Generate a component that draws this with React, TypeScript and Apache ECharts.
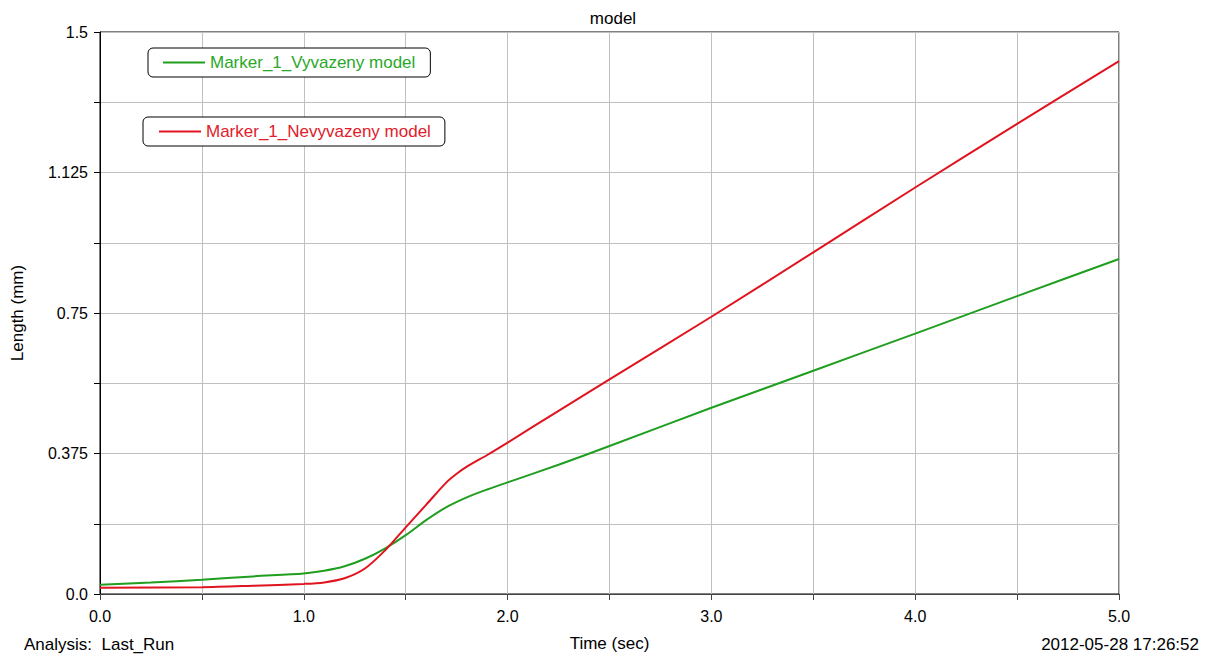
import React, { useEffect, useRef } from "react";
import * as echarts from "echarts";

const timeGreen = [0, 0.25, 0.5, 0.75, 1.0, 1.1, 1.2, 1.3, 1.4, 1.5, 1.6, 1.7, 1.8, 1.9, 2.0, 2.25, 2.5, 3.0, 3.5, 4.0, 4.5, 5.0];
const valGreen = [0.025, 0.031, 0.038, 0.047, 0.055, 0.062, 0.074, 0.094, 0.122, 0.157, 0.197, 0.232, 0.258, 0.279, 0.298, 0.345, 0.395, 0.497, 0.596, 0.695, 0.795, 0.894];
const timeRed = [0, 0.5, 0.75, 1.0, 1.1, 1.2, 1.3, 1.4, 1.5, 1.6, 1.7, 1.75, 1.8, 1.9, 2.0, 2.25, 2.5, 3.0, 3.5, 4.0, 4.5, 5.0];
const valRed = [0.017, 0.018, 0.022, 0.027, 0.031, 0.042, 0.068, 0.117, 0.178, 0.238, 0.298, 0.321, 0.34, 0.371, 0.404, 0.489, 0.573, 0.74, 0.912, 1.085, 1.255, 1.422];
const seriesNames = ["Marker_1_Vyvazeny model", "Marker_1_Nevyvazeny model"];
const yLabelStep = 0.375;

const FONT = "'Liberation Sans', Arial, sans-serif";
const GREEN = "#1f9e1f";
const RED = "#e0141e";

export default function App() {
  const ref = useRef<HTMLDivElement>(null);
  useEffect(() => {
    if (!ref.current) return;
    const chart = echarts.init(ref.current, null, { renderer: "svg" });
    const legendBase = {
      orient: "horizontal",
      icon: "rect",
      itemWidth: 42,
      itemHeight: 2,
      borderColor: "#000",
      borderWidth: 1,
      borderRadius: 5,
      backgroundColor: "#fff",
      selectedMode: false,
      textStyle: { fontFamily: FONT, fontSize: 17 },
    };
    chart.setOption({
      animation: false,
      backgroundColor: "#fff",
      title: {
        text: "model",
        left: 608,
        top: 5,
        textAlign: "center",
        textStyle: { fontFamily: FONT, fontSize: 17, fontWeight: "normal", color: "#000" },
      },
      legend: [
        {
          ...legendBase,
          data: [seriesNames[0]],
          left: 148,
          top: 48,
          padding: [6, 15, 6, 15],
          textStyle: { ...legendBase.textStyle, color: "#2aa82a" },
        },
        {
          ...legendBase,
          data: [seriesNames[1]],
          left: 143,
          top: 117,
          padding: [6, 14, 6, 16],
          textStyle: { ...legendBase.textStyle, color: "#e0202a" },
        },
      ],
      grid: {
        left: 100,
        top: 32,
        right: 94,
        bottom: 61,
        show: true,
        borderColor: "#000",
        borderWidth: 1,
      },
      xAxis: {
        type: "value",
        min: 0,
        max: 5,
        interval: 0.5,
        name: "Time (sec)",
        nameLocation: "middle",
        nameGap: 41,
        nameTextStyle: { fontFamily: FONT, fontSize: 17, color: "#000" },
        axisLine: { show: true, lineStyle: { color: "#444", width: 1 } },
        axisTick: { show: true, inside: false, length: 6, lineStyle: { color: "#444" } },
        axisLabel: {
          fontFamily: FONT,
          fontSize: 16,
          color: "#000",
          margin: 14,
          formatter: (v: number) => (Math.abs(v - Math.round(v)) < 1e-9 ? v.toFixed(1) : ""),
        },
        splitLine: { show: true, lineStyle: { color: "#c0c0c0", width: 1 } },
      },
      yAxis: {
        type: "value",
        min: 0,
        max: 1.5,
        interval: 0.1875,
        name: "Length (mm)",
        nameLocation: "middle",
        nameRotate: 90,
        nameGap: 74,
        nameTextStyle: { fontFamily: FONT, fontSize: 17, color: "#000" },
        axisLine: { show: true, lineStyle: { color: "#000", width: 1 } },
        axisTick: { show: true, inside: false, length: 6, lineStyle: { color: "#000" } },
        axisLabel: {
          fontFamily: FONT,
          fontSize: 16,
          color: "#000",
          margin: 12,
          formatter: (v: number) => {
            const k = v / yLabelStep;
            if (Math.abs(k - Math.round(k)) > 1e-9) return "";
            if (v === 0) return "0.0";
            if (v === 1.5) return "1.5";
            return String(Math.round(v * 1000) / 1000);
          },
        },
        splitLine: { show: true, lineStyle: { color: "#c0c0c0", width: 1 } },
      },
      graphic: [
        {
          type: "text",
          left: 24,
          top: 636,
          style: { text: "Analysis:  Last_Run", fontFamily: FONT, fontSize: 17, fill: "#000" },
        },
        {
          type: "text",
          right: 14,
          top: 636,
          style: { text: "2012-05-28 17:26:52", fontFamily: FONT, fontSize: 17, fill: "#000" },
        },
      ],
      series: [
        {
          name: seriesNames[0],
          type: "line",
          smooth: 0.3,
          showSymbol: false,
          color: GREEN,
          lineStyle: { width: 2, color: GREEN },
          data: timeGreen.map((t, i) => [t, valGreen[i]]),
          z: 3,
        },
        {
          name: seriesNames[1],
          type: "line",
          smooth: 0.3,
          showSymbol: false,
          color: RED,
          lineStyle: { width: 2, color: RED },
          data: timeRed.map((t, i) => [t, valRed[i]]),
          z: 4,
        },
      ],
    });
    return () => chart.dispose();
  }, []);
  return (
    <div
      ref={ref}
      style={{ position: "fixed", left: 0, top: 0, width: 1213, height: 657 }}
    />
  );
}
